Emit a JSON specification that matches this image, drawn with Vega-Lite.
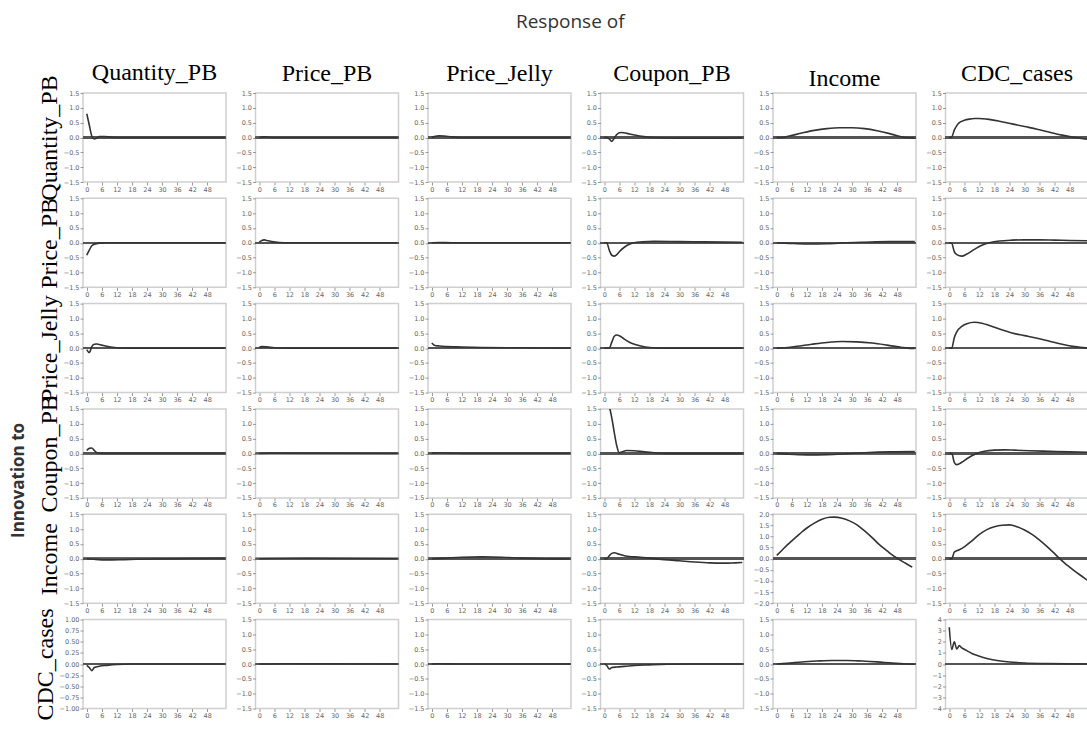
{
"$schema":"https://vega.github.io/schema/vega-lite/v6.json",
"background":"white",
"padding":{"left":10,"top":13,"right":0,"bottom":0},
"title":{"text":"Response of","font":"Open Sans","fontSize":19,"fontWeight":"normal","color":"#333","anchor":"middle","offset":28,"dx":20,"frame":"bounds"},
"datasets":{
"p11":[{"t":0,"v":0.8},{"t":1,"v":0.42},{"t":2,"v":0.05},{"t":3,"v":-0.05},{"t":4,"v":-0.02},{"t":5,"v":0.03},{"t":7,"v":0.03},{"t":10,"v":0.01},{"t":15,"v":0},{"t":55,"v":0}],
"p12":[{"t":0,"v":0},{"t":2,"v":0.02},{"t":4,"v":0.01},{"t":8,"v":0},{"t":55,"v":0}],
"p13":[{"t":0,"v":0},{"t":1,"v":0.03},{"t":3,"v":0.06},{"t":5,"v":0.05},{"t":8,"v":0.02},{"t":12,"v":0},{"t":55,"v":0}],
"p14":[{"t":0,"v":0},{"t":1,"v":0},{"t":2,"v":-0.05},{"t":3,"v":-0.13},{"t":4,"v":-0.02},{"t":5,"v":0.1},{"t":6,"v":0.16},{"t":7,"v":0.17},{"t":9,"v":0.14},{"t":11,"v":0.1},{"t":14,"v":0.05},{"t":18,"v":0.01},{"t":22,"v":-0.01},{"t":30,"v":-0.02},{"t":45,"v":-0.02},{"t":55,"v":-0.01}],
"p15":[{"t":0,"v":0},{"t":2,"v":0},{"t":5,"v":0.05},{"t":10,"v":0.15},{"t":15,"v":0.24},{"t":20,"v":0.3},{"t":25,"v":0.33},{"t":30,"v":0.33},{"t":35,"v":0.3},{"t":40,"v":0.23},{"t":45,"v":0.13},{"t":48,"v":0.06},{"t":51,"v":0},{"t":55,"v":-0.02}],
"p16":[{"t":0,"v":0},{"t":1,"v":0.02},{"t":2,"v":0.25},{"t":3,"v":0.4},{"t":4,"v":0.5},{"t":6,"v":0.58},{"t":8,"v":0.62},{"t":10,"v":0.64},{"t":12,"v":0.64},{"t":15,"v":0.62},{"t":20,"v":0.55},{"t":25,"v":0.46},{"t":30,"v":0.37},{"t":35,"v":0.28},{"t":40,"v":0.18},{"t":45,"v":0.08},{"t":50,"v":0},{"t":55,"v":-0.06}],
"p21":[{"t":0,"v":-0.42},{"t":1,"v":-0.25},{"t":2,"v":-0.1},{"t":3,"v":-0.05},{"t":5,"v":-0.01},{"t":8,"v":0},{"t":55,"v":0}],
"p22":[{"t":0,"v":0.02},{"t":1,"v":0.08},{"t":2,"v":0.1},{"t":3,"v":0.08},{"t":5,"v":0.04},{"t":8,"v":0.01},{"t":12,"v":0},{"t":55,"v":0}],
"p23":[{"t":0,"v":0},{"t":3,"v":0.01},{"t":8,"v":0},{"t":55,"v":0}],
"p24":[{"t":0,"v":0},{"t":1,"v":0},{"t":2,"v":-0.25},{"t":3,"v":-0.42},{"t":4,"v":-0.45},{"t":5,"v":-0.4},{"t":6,"v":-0.3},{"t":8,"v":-0.15},{"t":10,"v":-0.05},{"t":12,"v":0},{"t":15,"v":0.03},{"t":20,"v":0.05},{"t":30,"v":0.04},{"t":40,"v":0.03},{"t":55,"v":0.02}],
"p25":[{"t":0,"v":0},{"t":5,"v":-0.02},{"t":12,"v":-0.04},{"t":20,"v":-0.03},{"t":28,"v":0},{"t":35,"v":0.02},{"t":45,"v":0.04},{"t":55,"v":0.04}],
"p26":[{"t":0,"v":0},{"t":1,"v":-0.02},{"t":2,"v":-0.3},{"t":3,"v":-0.4},{"t":5,"v":-0.45},{"t":7,"v":-0.38},{"t":10,"v":-0.22},{"t":13,"v":-0.08},{"t":16,"v":0},{"t":20,"v":0.06},{"t":25,"v":0.09},{"t":30,"v":0.1},{"t":36,"v":0.1},{"t":42,"v":0.09},{"t":48,"v":0.08},{"t":55,"v":0.07}],
"p31":[{"t":0,"v":-0.05},{"t":1,"v":-0.15},{"t":2,"v":0.05},{"t":3,"v":0.13},{"t":4,"v":0.14},{"t":6,"v":0.1},{"t":8,"v":0.06},{"t":11,"v":0.02},{"t":15,"v":0},{"t":55,"v":0}],
"p32":[{"t":0,"v":0.02},{"t":1,"v":0.05},{"t":3,"v":0.04},{"t":6,"v":0.01},{"t":10,"v":0},{"t":55,"v":0}],
"p33":[{"t":0,"v":0.17},{"t":1,"v":0.1},{"t":3,"v":0.07},{"t":6,"v":0.05},{"t":10,"v":0.04},{"t":20,"v":0.02},{"t":30,"v":0.01},{"t":55,"v":0}],
"p34":[{"t":0,"v":0},{"t":2,"v":0},{"t":3,"v":0.2},{"t":4,"v":0.4},{"t":5,"v":0.44},{"t":6,"v":0.42},{"t":8,"v":0.3},{"t":10,"v":0.2},{"t":12,"v":0.13},{"t":15,"v":0.06},{"t":18,"v":0.02},{"t":22,"v":0},{"t":55,"v":0}],
"p35":[{"t":0,"v":0},{"t":3,"v":0.01},{"t":8,"v":0.06},{"t":14,"v":0.13},{"t":20,"v":0.19},{"t":26,"v":0.22},{"t":32,"v":0.21},{"t":38,"v":0.17},{"t":44,"v":0.1},{"t":50,"v":0.02},{"t":52,"v":0},{"t":55,"v":-0.01}],
"p36":[{"t":0,"v":0},{"t":1,"v":0},{"t":2,"v":0.35},{"t":3,"v":0.55},{"t":5,"v":0.73},{"t":7,"v":0.82},{"t":10,"v":0.87},{"t":13,"v":0.84},{"t":16,"v":0.76},{"t":20,"v":0.64},{"t":25,"v":0.51},{"t":30,"v":0.42},{"t":35,"v":0.33},{"t":40,"v":0.23},{"t":45,"v":0.13},{"t":50,"v":0.05},{"t":55,"v":0}],
"p41":[{"t":0,"v":0.1},{"t":1,"v":0.17},{"t":2,"v":0.18},{"t":3,"v":0.1},{"t":4,"v":0.02},{"t":6,"v":0},{"t":55,"v":0}],
"p42":[{"t":0,"v":0},{"t":4,"v":0.01},{"t":55,"v":0}],
"p43":[{"t":0,"v":0.01},{"t":3,"v":0.02},{"t":8,"v":0.01},{"t":15,"v":0},{"t":55,"v":0}],
"p44":[{"t":0,"v":2.4},{"t":1,"v":2.0},{"t":2,"v":1.6},{"t":3,"v":1.2},{"t":4,"v":0.7},{"t":5,"v":0.25},{"t":6,"v":0.02},{"t":7,"v":0.05},{"t":9,"v":0.1},{"t":12,"v":0.09},{"t":16,"v":0.05},{"t":20,"v":0.02},{"t":25,"v":0},{"t":55,"v":0}],
"p45":[{"t":0,"v":0},{"t":5,"v":-0.03},{"t":12,"v":-0.05},{"t":20,"v":-0.04},{"t":28,"v":-0.01},{"t":35,"v":0.02},{"t":45,"v":0.05},{"t":55,"v":0.06}],
"p46":[{"t":0,"v":0},{"t":1,"v":0},{"t":2,"v":-0.3},{"t":3,"v":-0.38},{"t":5,"v":-0.3},{"t":7,"v":-0.18},{"t":9,"v":-0.08},{"t":11,"v":0},{"t":14,"v":0.07},{"t":18,"v":0.11},{"t":22,"v":0.12},{"t":26,"v":0.11},{"t":32,"v":0.09},{"t":40,"v":0.07},{"t":48,"v":0.05},{"t":55,"v":0.04}],
"p51":[{"t":0,"v":0},{"t":3,"v":-0.02},{"t":8,"v":-0.04},{"t":15,"v":-0.03},{"t":25,"v":-0.01},{"t":35,"v":0},{"t":55,"v":0.01}],
"p52":[{"t":0,"v":0},{"t":20,"v":0.01},{"t":55,"v":0}],
"p53":[{"t":0,"v":0},{"t":5,"v":0.02},{"t":12,"v":0.05},{"t":20,"v":0.06},{"t":28,"v":0.05},{"t":36,"v":0.02},{"t":45,"v":0},{"t":55,"v":-0.01}],
"p54":[{"t":0,"v":0},{"t":1,"v":0},{"t":2,"v":0.1},{"t":3,"v":0.18},{"t":4,"v":0.2},{"t":6,"v":0.15},{"t":8,"v":0.1},{"t":12,"v":0.06},{"t":18,"v":0.02},{"t":24,"v":-0.03},{"t":30,"v":-0.07},{"t":36,"v":-0.11},{"t":42,"v":-0.14},{"t":48,"v":-0.15},{"t":52,"v":-0.14},{"t":55,"v":-0.13}],
"p55":[{"t":0,"v":0.15},{"t":2,"v":0.37},{"t":4,"v":0.6},{"t":6,"v":0.8},{"t":8,"v":1.0},{"t":10,"v":1.2},{"t":12,"v":1.38},{"t":15,"v":1.6},{"t":18,"v":1.77},{"t":21,"v":1.86},{"t":23,"v":1.87},{"t":26,"v":1.82},{"t":29,"v":1.7},{"t":32,"v":1.52},{"t":35,"v":1.25},{"t":38,"v":0.95},{"t":41,"v":0.62},{"t":44,"v":0.35},{"t":46,"v":0.17},{"t":48,"v":0.02},{"t":50,"v":-0.12},{"t":52,"v":-0.25},{"t":54,"v":-0.38}],
"p56":[{"t":0,"v":0},{"t":1,"v":0},{"t":2,"v":0.22},{"t":4,"v":0.3},{"t":6,"v":0.4},{"t":9,"v":0.6},{"t":12,"v":0.82},{"t":15,"v":0.98},{"t":18,"v":1.08},{"t":21,"v":1.13},{"t":24,"v":1.14},{"t":27,"v":1.08},{"t":30,"v":0.97},{"t":33,"v":0.82},{"t":36,"v":0.63},{"t":39,"v":0.41},{"t":42,"v":0.17},{"t":44,"v":0},{"t":47,"v":-0.22},{"t":50,"v":-0.42},{"t":53,"v":-0.6},{"t":55,"v":-0.72}],
"p61":[{"t":0,"v":-0.03},{"t":1,"v":-0.08},{"t":2,"v":-0.15},{"t":3,"v":-0.08},{"t":5,"v":-0.05},{"t":8,"v":-0.03},{"t":12,"v":-0.01},{"t":18,"v":0},{"t":55,"v":0}],
"p62":[{"t":0,"v":0},{"t":10,"v":0.01},{"t":55,"v":0}],
"p63":[{"t":0,"v":0},{"t":3,"v":0.01},{"t":10,"v":0},{"t":55,"v":0}],
"p64":[{"t":0,"v":0},{"t":1,"v":-0.05},{"t":2,"v":-0.17},{"t":3,"v":-0.12},{"t":5,"v":-0.1},{"t":8,"v":-0.08},{"t":12,"v":-0.05},{"t":18,"v":-0.03},{"t":25,"v":-0.01},{"t":35,"v":0},{"t":55,"v":0}],
"p65":[{"t":0,"v":0},{"t":4,"v":0.02},{"t":10,"v":0.07},{"t":16,"v":0.1},{"t":22,"v":0.12},{"t":28,"v":0.12},{"t":34,"v":0.1},{"t":40,"v":0.07},{"t":46,"v":0.03},{"t":52,"v":0},{"t":55,"v":-0.01}],
"p66":[{"t":0,"v":3.3},{"t":1,"v":1.3},{"t":2,"v":2.0},{"t":3,"v":1.35},{"t":4,"v":1.65},{"t":5,"v":1.45},{"t":7,"v":1.2},{"t":9,"v":0.95},{"t":12,"v":0.7},{"t":15,"v":0.5},{"t":19,"v":0.32},{"t":24,"v":0.18},{"t":30,"v":0.09},{"t":38,"v":0.04},{"t":48,"v":0.01},{"t":55,"v":0}]
},
"vconcat":[{
"title":{"text":"Innovation to","orient":"left","font":"Open Sans","fontSize":17,"fontWeight":"bold","color":"#333","anchor":"middle","offset":4,"dx":-90,"frame":"bounds"},
"columns":6,
"spacing":{"row":16.3,"column":29.5},
"bounds":"flush",
"concat":[
{"width":143,"height":89,"title":{"text":"Quantity_PB","offset":-10},"data":{"name":"p11"},"layer":[{"mark":"rule","encoding":{"y":{"datum":0,"type":"quantitative","scale":{"domain":[-1.5,1.5],"nice":false},"axis":{"values":[-1.5,-1,-0.5,0,0.5,1,1.5],"format":".1f","title":"Quantity_PB"}}}},{"mark":{"type":"line","clip":true},"encoding":{"x":{"field":"t","type":"quantitative","scale":{"domain":[-1.5,55.5],"nice":false,"zero":false},"axis":{"values":[0,6,12,18,24,30,36,42,48],"title":null}},"y":{"field":"v","type":"quantitative","scale":{"domain":[-1.5,1.5],"nice":false},"axis":{"values":[-1.5,-1,-0.5,0,0.5,1,1.5],"format":".1f","title":"Quantity_PB"}}}}]},
{"width":143,"height":89,"title":"Price_PB","data":{"name":"p12"},"layer":[{"mark":"rule","encoding":{"y":{"datum":0,"type":"quantitative","scale":{"domain":[-1.5,1.5],"nice":false},"axis":{"values":[-1.5,-1,-0.5,0,0.5,1,1.5],"format":".1f","title":null}}}},{"mark":{"type":"line","clip":true},"encoding":{"x":{"field":"t","type":"quantitative","scale":{"domain":[-1.5,55.5],"nice":false,"zero":false},"axis":{"values":[0,6,12,18,24,30,36,42,48],"title":null}},"y":{"field":"v","type":"quantitative","scale":{"domain":[-1.5,1.5],"nice":false},"axis":{"values":[-1.5,-1,-0.5,0,0.5,1,1.5],"format":".1f","title":null}}}}]},
{"width":143,"height":89,"title":"Price_Jelly","data":{"name":"p13"},"layer":[{"mark":"rule","encoding":{"y":{"datum":0,"type":"quantitative","scale":{"domain":[-1.5,1.5],"nice":false},"axis":{"values":[-1.5,-1,-0.5,0,0.5,1,1.5],"format":".1f","title":null}}}},{"mark":{"type":"line","clip":true},"encoding":{"x":{"field":"t","type":"quantitative","scale":{"domain":[-1.5,55.5],"nice":false,"zero":false},"axis":{"values":[0,6,12,18,24,30,36,42,48],"title":null}},"y":{"field":"v","type":"quantitative","scale":{"domain":[-1.5,1.5],"nice":false},"axis":{"values":[-1.5,-1,-0.5,0,0.5,1,1.5],"format":".1f","title":null}}}}]},
{"width":143,"height":89,"title":"Coupon_PB","data":{"name":"p14"},"layer":[{"mark":"rule","encoding":{"y":{"datum":0,"type":"quantitative","scale":{"domain":[-1.5,1.5],"nice":false},"axis":{"values":[-1.5,-1,-0.5,0,0.5,1,1.5],"format":".1f","title":null}}}},{"mark":{"type":"line","clip":true},"encoding":{"x":{"field":"t","type":"quantitative","scale":{"domain":[-1.5,55.5],"nice":false,"zero":false},"axis":{"values":[0,6,12,18,24,30,36,42,48],"title":null}},"y":{"field":"v","type":"quantitative","scale":{"domain":[-1.5,1.5],"nice":false},"axis":{"values":[-1.5,-1,-0.5,0,0.5,1,1.5],"format":".1f","title":null}}}}]},
{"width":143,"height":89,"title":{"text":"Income","offset":-1},"data":{"name":"p15"},"layer":[{"mark":"rule","encoding":{"y":{"datum":0,"type":"quantitative","scale":{"domain":[-1.5,1.5],"nice":false},"axis":{"values":[-1.5,-1,-0.5,0,0.5,1,1.5],"format":".1f","title":null}}}},{"mark":{"type":"line","clip":true},"encoding":{"x":{"field":"t","type":"quantitative","scale":{"domain":[-1.5,55.5],"nice":false,"zero":false},"axis":{"values":[0,6,12,18,24,30,36,42,48],"title":null}},"y":{"field":"v","type":"quantitative","scale":{"domain":[-1.5,1.5],"nice":false},"axis":{"values":[-1.5,-1,-0.5,0,0.5,1,1.5],"format":".1f","title":null}}}}]},
{"width":143,"height":89,"title":"CDC_cases","data":{"name":"p16"},"layer":[{"mark":"rule","encoding":{"y":{"datum":0,"type":"quantitative","scale":{"domain":[-1.5,1.5],"nice":false},"axis":{"values":[-1.5,-1,-0.5,0,0.5,1,1.5],"format":".1f","title":null}}}},{"mark":{"type":"line","clip":true},"encoding":{"x":{"field":"t","type":"quantitative","scale":{"domain":[-1.5,55.5],"nice":false,"zero":false},"axis":{"values":[0,6,12,18,24,30,36,42,48],"title":null}},"y":{"field":"v","type":"quantitative","scale":{"domain":[-1.5,1.5],"nice":false},"axis":{"values":[-1.5,-1,-0.5,0,0.5,1,1.5],"format":".1f","title":null}}}}]},

{"width":143,"height":89,"data":{"name":"p21"},"layer":[{"mark":"rule","encoding":{"y":{"datum":0,"type":"quantitative","scale":{"domain":[-1.5,1.5],"nice":false},"axis":{"values":[-1.5,-1,-0.5,0,0.5,1,1.5],"format":".1f","title":"Price_PB"}}}},{"mark":{"type":"line","clip":true},"encoding":{"x":{"field":"t","type":"quantitative","scale":{"domain":[-1.5,55.5],"nice":false,"zero":false},"axis":{"values":[0,6,12,18,24,30,36,42,48],"title":null}},"y":{"field":"v","type":"quantitative","scale":{"domain":[-1.5,1.5],"nice":false},"axis":{"values":[-1.5,-1,-0.5,0,0.5,1,1.5],"format":".1f","title":"Price_PB"}}}}]},
{"width":143,"height":89,"data":{"name":"p22"},"layer":[{"mark":"rule","encoding":{"y":{"datum":0,"type":"quantitative","scale":{"domain":[-1.5,1.5],"nice":false},"axis":{"values":[-1.5,-1,-0.5,0,0.5,1,1.5],"format":".1f","title":null}}}},{"mark":{"type":"line","clip":true},"encoding":{"x":{"field":"t","type":"quantitative","scale":{"domain":[-1.5,55.5],"nice":false,"zero":false},"axis":{"values":[0,6,12,18,24,30,36,42,48],"title":null}},"y":{"field":"v","type":"quantitative","scale":{"domain":[-1.5,1.5],"nice":false},"axis":{"values":[-1.5,-1,-0.5,0,0.5,1,1.5],"format":".1f","title":null}}}}]},
{"width":143,"height":89,"data":{"name":"p23"},"layer":[{"mark":"rule","encoding":{"y":{"datum":0,"type":"quantitative","scale":{"domain":[-1.5,1.5],"nice":false},"axis":{"values":[-1.5,-1,-0.5,0,0.5,1,1.5],"format":".1f","title":null}}}},{"mark":{"type":"line","clip":true},"encoding":{"x":{"field":"t","type":"quantitative","scale":{"domain":[-1.5,55.5],"nice":false,"zero":false},"axis":{"values":[0,6,12,18,24,30,36,42,48],"title":null}},"y":{"field":"v","type":"quantitative","scale":{"domain":[-1.5,1.5],"nice":false},"axis":{"values":[-1.5,-1,-0.5,0,0.5,1,1.5],"format":".1f","title":null}}}}]},
{"width":143,"height":89,"data":{"name":"p24"},"layer":[{"mark":"rule","encoding":{"y":{"datum":0,"type":"quantitative","scale":{"domain":[-1.5,1.5],"nice":false},"axis":{"values":[-1.5,-1,-0.5,0,0.5,1,1.5],"format":".1f","title":null}}}},{"mark":{"type":"line","clip":true},"encoding":{"x":{"field":"t","type":"quantitative","scale":{"domain":[-1.5,55.5],"nice":false,"zero":false},"axis":{"values":[0,6,12,18,24,30,36,42,48],"title":null}},"y":{"field":"v","type":"quantitative","scale":{"domain":[-1.5,1.5],"nice":false},"axis":{"values":[-1.5,-1,-0.5,0,0.5,1,1.5],"format":".1f","title":null}}}}]},
{"width":143,"height":89,"data":{"name":"p25"},"layer":[{"mark":"rule","encoding":{"y":{"datum":0,"type":"quantitative","scale":{"domain":[-1.5,1.5],"nice":false},"axis":{"values":[-1.5,-1,-0.5,0,0.5,1,1.5],"format":".1f","title":null}}}},{"mark":{"type":"line","clip":true},"encoding":{"x":{"field":"t","type":"quantitative","scale":{"domain":[-1.5,55.5],"nice":false,"zero":false},"axis":{"values":[0,6,12,18,24,30,36,42,48],"title":null}},"y":{"field":"v","type":"quantitative","scale":{"domain":[-1.5,1.5],"nice":false},"axis":{"values":[-1.5,-1,-0.5,0,0.5,1,1.5],"format":".1f","title":null}}}}]},
{"width":143,"height":89,"data":{"name":"p26"},"layer":[{"mark":"rule","encoding":{"y":{"datum":0,"type":"quantitative","scale":{"domain":[-1.5,1.5],"nice":false},"axis":{"values":[-1.5,-1,-0.5,0,0.5,1,1.5],"format":".1f","title":null}}}},{"mark":{"type":"line","clip":true},"encoding":{"x":{"field":"t","type":"quantitative","scale":{"domain":[-1.5,55.5],"nice":false,"zero":false},"axis":{"values":[0,6,12,18,24,30,36,42,48],"title":null}},"y":{"field":"v","type":"quantitative","scale":{"domain":[-1.5,1.5],"nice":false},"axis":{"values":[-1.5,-1,-0.5,0,0.5,1,1.5],"format":".1f","title":null}}}}]},

{"width":143,"height":89,"data":{"name":"p31"},"layer":[{"mark":"rule","encoding":{"y":{"datum":0,"type":"quantitative","scale":{"domain":[-1.5,1.5],"nice":false},"axis":{"values":[-1.5,-1,-0.5,0,0.5,1,1.5],"format":".1f","title":"Price_Jelly"}}}},{"mark":{"type":"line","clip":true},"encoding":{"x":{"field":"t","type":"quantitative","scale":{"domain":[-1.5,55.5],"nice":false,"zero":false},"axis":{"values":[0,6,12,18,24,30,36,42,48],"title":null}},"y":{"field":"v","type":"quantitative","scale":{"domain":[-1.5,1.5],"nice":false},"axis":{"values":[-1.5,-1,-0.5,0,0.5,1,1.5],"format":".1f","title":"Price_Jelly"}}}}]},
{"width":143,"height":89,"data":{"name":"p32"},"layer":[{"mark":"rule","encoding":{"y":{"datum":0,"type":"quantitative","scale":{"domain":[-1.5,1.5],"nice":false},"axis":{"values":[-1.5,-1,-0.5,0,0.5,1,1.5],"format":".1f","title":null}}}},{"mark":{"type":"line","clip":true},"encoding":{"x":{"field":"t","type":"quantitative","scale":{"domain":[-1.5,55.5],"nice":false,"zero":false},"axis":{"values":[0,6,12,18,24,30,36,42,48],"title":null}},"y":{"field":"v","type":"quantitative","scale":{"domain":[-1.5,1.5],"nice":false},"axis":{"values":[-1.5,-1,-0.5,0,0.5,1,1.5],"format":".1f","title":null}}}}]},
{"width":143,"height":89,"data":{"name":"p33"},"layer":[{"mark":"rule","encoding":{"y":{"datum":0,"type":"quantitative","scale":{"domain":[-1.5,1.5],"nice":false},"axis":{"values":[-1.5,-1,-0.5,0,0.5,1,1.5],"format":".1f","title":null}}}},{"mark":{"type":"line","clip":true},"encoding":{"x":{"field":"t","type":"quantitative","scale":{"domain":[-1.5,55.5],"nice":false,"zero":false},"axis":{"values":[0,6,12,18,24,30,36,42,48],"title":null}},"y":{"field":"v","type":"quantitative","scale":{"domain":[-1.5,1.5],"nice":false},"axis":{"values":[-1.5,-1,-0.5,0,0.5,1,1.5],"format":".1f","title":null}}}}]},
{"width":143,"height":89,"data":{"name":"p34"},"layer":[{"mark":"rule","encoding":{"y":{"datum":0,"type":"quantitative","scale":{"domain":[-1.5,1.5],"nice":false},"axis":{"values":[-1.5,-1,-0.5,0,0.5,1,1.5],"format":".1f","title":null}}}},{"mark":{"type":"line","clip":true},"encoding":{"x":{"field":"t","type":"quantitative","scale":{"domain":[-1.5,55.5],"nice":false,"zero":false},"axis":{"values":[0,6,12,18,24,30,36,42,48],"title":null}},"y":{"field":"v","type":"quantitative","scale":{"domain":[-1.5,1.5],"nice":false},"axis":{"values":[-1.5,-1,-0.5,0,0.5,1,1.5],"format":".1f","title":null}}}}]},
{"width":143,"height":89,"data":{"name":"p35"},"layer":[{"mark":"rule","encoding":{"y":{"datum":0,"type":"quantitative","scale":{"domain":[-1.5,1.5],"nice":false},"axis":{"values":[-1.5,-1,-0.5,0,0.5,1,1.5],"format":".1f","title":null}}}},{"mark":{"type":"line","clip":true},"encoding":{"x":{"field":"t","type":"quantitative","scale":{"domain":[-1.5,55.5],"nice":false,"zero":false},"axis":{"values":[0,6,12,18,24,30,36,42,48],"title":null}},"y":{"field":"v","type":"quantitative","scale":{"domain":[-1.5,1.5],"nice":false},"axis":{"values":[-1.5,-1,-0.5,0,0.5,1,1.5],"format":".1f","title":null}}}}]},
{"width":143,"height":89,"data":{"name":"p36"},"layer":[{"mark":"rule","encoding":{"y":{"datum":0,"type":"quantitative","scale":{"domain":[-1.5,1.5],"nice":false},"axis":{"values":[-1.5,-1,-0.5,0,0.5,1,1.5],"format":".1f","title":null}}}},{"mark":{"type":"line","clip":true},"encoding":{"x":{"field":"t","type":"quantitative","scale":{"domain":[-1.5,55.5],"nice":false,"zero":false},"axis":{"values":[0,6,12,18,24,30,36,42,48],"title":null}},"y":{"field":"v","type":"quantitative","scale":{"domain":[-1.5,1.5],"nice":false},"axis":{"values":[-1.5,-1,-0.5,0,0.5,1,1.5],"format":".1f","title":null}}}}]},

{"width":143,"height":89,"data":{"name":"p41"},"layer":[{"mark":"rule","encoding":{"y":{"datum":0,"type":"quantitative","scale":{"domain":[-1.5,1.5],"nice":false},"axis":{"values":[-1.5,-1,-0.5,0,0.5,1,1.5],"format":".1f","title":"Coupon_PB"}}}},{"mark":{"type":"line","clip":true},"encoding":{"x":{"field":"t","type":"quantitative","scale":{"domain":[-1.5,55.5],"nice":false,"zero":false},"axis":{"values":[0,6,12,18,24,30,36,42,48],"title":null}},"y":{"field":"v","type":"quantitative","scale":{"domain":[-1.5,1.5],"nice":false},"axis":{"values":[-1.5,-1,-0.5,0,0.5,1,1.5],"format":".1f","title":"Coupon_PB"}}}}]},
{"width":143,"height":89,"data":{"name":"p42"},"layer":[{"mark":"rule","encoding":{"y":{"datum":0,"type":"quantitative","scale":{"domain":[-1.5,1.5],"nice":false},"axis":{"values":[-1.5,-1,-0.5,0,0.5,1,1.5],"format":".1f","title":null}}}},{"mark":{"type":"line","clip":true},"encoding":{"x":{"field":"t","type":"quantitative","scale":{"domain":[-1.5,55.5],"nice":false,"zero":false},"axis":{"values":[0,6,12,18,24,30,36,42,48],"title":null}},"y":{"field":"v","type":"quantitative","scale":{"domain":[-1.5,1.5],"nice":false},"axis":{"values":[-1.5,-1,-0.5,0,0.5,1,1.5],"format":".1f","title":null}}}}]},
{"width":143,"height":89,"data":{"name":"p43"},"layer":[{"mark":"rule","encoding":{"y":{"datum":0,"type":"quantitative","scale":{"domain":[-1.5,1.5],"nice":false},"axis":{"values":[-1.5,-1,-0.5,0,0.5,1,1.5],"format":".1f","title":null}}}},{"mark":{"type":"line","clip":true},"encoding":{"x":{"field":"t","type":"quantitative","scale":{"domain":[-1.5,55.5],"nice":false,"zero":false},"axis":{"values":[0,6,12,18,24,30,36,42,48],"title":null}},"y":{"field":"v","type":"quantitative","scale":{"domain":[-1.5,1.5],"nice":false},"axis":{"values":[-1.5,-1,-0.5,0,0.5,1,1.5],"format":".1f","title":null}}}}]},
{"width":143,"height":89,"data":{"name":"p44"},"layer":[{"mark":"rule","encoding":{"y":{"datum":0,"type":"quantitative","scale":{"domain":[-1.5,1.5],"nice":false},"axis":{"values":[-1.5,-1,-0.5,0,0.5,1,1.5],"format":".1f","title":null}}}},{"mark":{"type":"line","clip":true},"encoding":{"x":{"field":"t","type":"quantitative","scale":{"domain":[-1.5,55.5],"nice":false,"zero":false},"axis":{"values":[0,6,12,18,24,30,36,42,48],"title":null}},"y":{"field":"v","type":"quantitative","scale":{"domain":[-1.5,1.5],"nice":false},"axis":{"values":[-1.5,-1,-0.5,0,0.5,1,1.5],"format":".1f","title":null}}}}]},
{"width":143,"height":89,"data":{"name":"p45"},"layer":[{"mark":"rule","encoding":{"y":{"datum":0,"type":"quantitative","scale":{"domain":[-1.5,1.5],"nice":false},"axis":{"values":[-1.5,-1,-0.5,0,0.5,1,1.5],"format":".1f","title":null}}}},{"mark":{"type":"line","clip":true},"encoding":{"x":{"field":"t","type":"quantitative","scale":{"domain":[-1.5,55.5],"nice":false,"zero":false},"axis":{"values":[0,6,12,18,24,30,36,42,48],"title":null}},"y":{"field":"v","type":"quantitative","scale":{"domain":[-1.5,1.5],"nice":false},"axis":{"values":[-1.5,-1,-0.5,0,0.5,1,1.5],"format":".1f","title":null}}}}]},
{"width":143,"height":89,"data":{"name":"p46"},"layer":[{"mark":"rule","encoding":{"y":{"datum":0,"type":"quantitative","scale":{"domain":[-1.5,1.5],"nice":false},"axis":{"values":[-1.5,-1,-0.5,0,0.5,1,1.5],"format":".1f","title":null}}}},{"mark":{"type":"line","clip":true},"encoding":{"x":{"field":"t","type":"quantitative","scale":{"domain":[-1.5,55.5],"nice":false,"zero":false},"axis":{"values":[0,6,12,18,24,30,36,42,48],"title":null}},"y":{"field":"v","type":"quantitative","scale":{"domain":[-1.5,1.5],"nice":false},"axis":{"values":[-1.5,-1,-0.5,0,0.5,1,1.5],"format":".1f","title":null}}}}]},

{"width":143,"height":89,"data":{"name":"p51"},"layer":[{"mark":"rule","encoding":{"y":{"datum":0,"type":"quantitative","scale":{"domain":[-1.5,1.5],"nice":false},"axis":{"values":[-1.5,-1,-0.5,0,0.5,1,1.5],"format":".1f","title":"Income"}}}},{"mark":{"type":"line","clip":true},"encoding":{"x":{"field":"t","type":"quantitative","scale":{"domain":[-1.5,55.5],"nice":false,"zero":false},"axis":{"values":[0,6,12,18,24,30,36,42,48],"title":null}},"y":{"field":"v","type":"quantitative","scale":{"domain":[-1.5,1.5],"nice":false},"axis":{"values":[-1.5,-1,-0.5,0,0.5,1,1.5],"format":".1f","title":"Income"}}}}]},
{"width":143,"height":89,"data":{"name":"p52"},"layer":[{"mark":"rule","encoding":{"y":{"datum":0,"type":"quantitative","scale":{"domain":[-1.5,1.5],"nice":false},"axis":{"values":[-1.5,-1,-0.5,0,0.5,1,1.5],"format":".1f","title":null}}}},{"mark":{"type":"line","clip":true},"encoding":{"x":{"field":"t","type":"quantitative","scale":{"domain":[-1.5,55.5],"nice":false,"zero":false},"axis":{"values":[0,6,12,18,24,30,36,42,48],"title":null}},"y":{"field":"v","type":"quantitative","scale":{"domain":[-1.5,1.5],"nice":false},"axis":{"values":[-1.5,-1,-0.5,0,0.5,1,1.5],"format":".1f","title":null}}}}]},
{"width":143,"height":89,"data":{"name":"p53"},"layer":[{"mark":"rule","encoding":{"y":{"datum":0,"type":"quantitative","scale":{"domain":[-1.5,1.5],"nice":false},"axis":{"values":[-1.5,-1,-0.5,0,0.5,1,1.5],"format":".1f","title":null}}}},{"mark":{"type":"line","clip":true},"encoding":{"x":{"field":"t","type":"quantitative","scale":{"domain":[-1.5,55.5],"nice":false,"zero":false},"axis":{"values":[0,6,12,18,24,30,36,42,48],"title":null}},"y":{"field":"v","type":"quantitative","scale":{"domain":[-1.5,1.5],"nice":false},"axis":{"values":[-1.5,-1,-0.5,0,0.5,1,1.5],"format":".1f","title":null}}}}]},
{"width":143,"height":89,"data":{"name":"p54"},"layer":[{"mark":"rule","encoding":{"y":{"datum":0,"type":"quantitative","scale":{"domain":[-1.5,1.5],"nice":false},"axis":{"values":[-1.5,-1,-0.5,0,0.5,1,1.5],"format":".1f","title":null}}}},{"mark":{"type":"line","clip":true},"encoding":{"x":{"field":"t","type":"quantitative","scale":{"domain":[-1.5,55.5],"nice":false,"zero":false},"axis":{"values":[0,6,12,18,24,30,36,42,48],"title":null}},"y":{"field":"v","type":"quantitative","scale":{"domain":[-1.5,1.5],"nice":false},"axis":{"values":[-1.5,-1,-0.5,0,0.5,1,1.5],"format":".1f","title":null}}}}]},
{"width":143,"height":89,"data":{"name":"p55"},"layer":[{"mark":"rule","encoding":{"y":{"datum":0,"type":"quantitative","scale":{"domain":[-2,2],"nice":false},"axis":{"values":[-2,-1.5,-1,-0.5,0,0.5,1,1.5,2],"format":".1f","title":null}}}},{"mark":{"type":"line","clip":true},"encoding":{"x":{"field":"t","type":"quantitative","scale":{"domain":[-1.5,55.5],"nice":false,"zero":false},"axis":{"values":[0,6,12,18,24,30,36,42,48],"title":null}},"y":{"field":"v","type":"quantitative","scale":{"domain":[-2,2],"nice":false},"axis":{"values":[-2,-1.5,-1,-0.5,0,0.5,1,1.5,2],"format":".1f","title":null}}}}]},
{"width":143,"height":89,"data":{"name":"p56"},"layer":[{"mark":"rule","encoding":{"y":{"datum":0,"type":"quantitative","scale":{"domain":[-1.5,1.5],"nice":false},"axis":{"values":[-1.5,-1,-0.5,0,0.5,1,1.5],"format":".1f","title":null}}}},{"mark":{"type":"line","clip":true},"encoding":{"x":{"field":"t","type":"quantitative","scale":{"domain":[-1.5,55.5],"nice":false,"zero":false},"axis":{"values":[0,6,12,18,24,30,36,42,48],"title":null}},"y":{"field":"v","type":"quantitative","scale":{"domain":[-1.5,1.5],"nice":false},"axis":{"values":[-1.5,-1,-0.5,0,0.5,1,1.5],"format":".1f","title":null}}}}]},

{"width":143,"height":89,"data":{"name":"p61"},"layer":[{"mark":"rule","encoding":{"y":{"datum":0,"type":"quantitative","scale":{"domain":[-1,1],"nice":false},"axis":{"values":[-1,-0.75,-0.5,-0.25,0,0.25,0.5,0.75,1],"format":".2f","title":"CDC_cases"}}}},{"mark":{"type":"line","clip":true},"encoding":{"x":{"field":"t","type":"quantitative","scale":{"domain":[-1.5,55.5],"nice":false,"zero":false},"axis":{"values":[0,6,12,18,24,30,36,42,48],"title":null}},"y":{"field":"v","type":"quantitative","scale":{"domain":[-1,1],"nice":false},"axis":{"values":[-1,-0.75,-0.5,-0.25,0,0.25,0.5,0.75,1],"format":".2f","title":"CDC_cases"}}}}]},
{"width":143,"height":89,"data":{"name":"p62"},"layer":[{"mark":"rule","encoding":{"y":{"datum":0,"type":"quantitative","scale":{"domain":[-1.5,1.5],"nice":false},"axis":{"values":[-1.5,-1,-0.5,0,0.5,1,1.5],"format":".1f","title":null}}}},{"mark":{"type":"line","clip":true},"encoding":{"x":{"field":"t","type":"quantitative","scale":{"domain":[-1.5,55.5],"nice":false,"zero":false},"axis":{"values":[0,6,12,18,24,30,36,42,48],"title":null}},"y":{"field":"v","type":"quantitative","scale":{"domain":[-1.5,1.5],"nice":false},"axis":{"values":[-1.5,-1,-0.5,0,0.5,1,1.5],"format":".1f","title":null}}}}]},
{"width":143,"height":89,"data":{"name":"p63"},"layer":[{"mark":"rule","encoding":{"y":{"datum":0,"type":"quantitative","scale":{"domain":[-1.5,1.5],"nice":false},"axis":{"values":[-1.5,-1,-0.5,0,0.5,1,1.5],"format":".1f","title":null}}}},{"mark":{"type":"line","clip":true},"encoding":{"x":{"field":"t","type":"quantitative","scale":{"domain":[-1.5,55.5],"nice":false,"zero":false},"axis":{"values":[0,6,12,18,24,30,36,42,48],"title":null}},"y":{"field":"v","type":"quantitative","scale":{"domain":[-1.5,1.5],"nice":false},"axis":{"values":[-1.5,-1,-0.5,0,0.5,1,1.5],"format":".1f","title":null}}}}]},
{"width":143,"height":89,"data":{"name":"p64"},"layer":[{"mark":"rule","encoding":{"y":{"datum":0,"type":"quantitative","scale":{"domain":[-1.5,1.5],"nice":false},"axis":{"values":[-1.5,-1,-0.5,0,0.5,1,1.5],"format":".1f","title":null}}}},{"mark":{"type":"line","clip":true},"encoding":{"x":{"field":"t","type":"quantitative","scale":{"domain":[-1.5,55.5],"nice":false,"zero":false},"axis":{"values":[0,6,12,18,24,30,36,42,48],"title":null}},"y":{"field":"v","type":"quantitative","scale":{"domain":[-1.5,1.5],"nice":false},"axis":{"values":[-1.5,-1,-0.5,0,0.5,1,1.5],"format":".1f","title":null}}}}]},
{"width":143,"height":89,"data":{"name":"p65"},"layer":[{"mark":"rule","encoding":{"y":{"datum":0,"type":"quantitative","scale":{"domain":[-1.5,1.5],"nice":false},"axis":{"values":[-1.5,-1,-0.5,0,0.5,1,1.5],"format":".1f","title":null}}}},{"mark":{"type":"line","clip":true},"encoding":{"x":{"field":"t","type":"quantitative","scale":{"domain":[-1.5,55.5],"nice":false,"zero":false},"axis":{"values":[0,6,12,18,24,30,36,42,48],"title":null}},"y":{"field":"v","type":"quantitative","scale":{"domain":[-1.5,1.5],"nice":false},"axis":{"values":[-1.5,-1,-0.5,0,0.5,1,1.5],"format":".1f","title":null}}}}]},
{"width":143,"height":89,"data":{"name":"p66"},"layer":[{"mark":"rule","encoding":{"y":{"datum":0,"type":"quantitative","scale":{"domain":[-4,4],"nice":false},"axis":{"values":[-4,-3,-2,-1,0,1,2,3,4],"format":"d","title":null}}}},{"mark":{"type":"line","clip":true},"encoding":{"x":{"field":"t","type":"quantitative","scale":{"domain":[-1.5,55.5],"nice":false,"zero":false},"axis":{"values":[0,6,12,18,24,30,36,42,48],"title":null}},"y":{"field":"v","type":"quantitative","scale":{"domain":[-4,4],"nice":false},"axis":{"values":[-4,-3,-2,-1,0,1,2,3,4],"format":"d","title":null}}}}]}
]
}],
"config":{
"view":{"stroke":"#cfcfcf","strokeWidth":1.5},
"axis":{"grid":false,"domain":false,"tickColor":"#999","tickSize":3,"labelFont":"DejaVu Sans","labelFontSize":6.5,"labelColor":"#666","labelPadding":1,"labelFlush":false,"labelOverlap":false,"titleFont":"Liberation Serif","titleFontSize":24,"titleFontWeight":"normal","titleColor":"#000","titlePadding":2},
"title":{"font":"Liberation Serif","fontSize":24,"fontWeight":"normal","color":"#000","anchor":"middle","offset":4,"frame":"group"},
"line":{"color":"#333","strokeWidth":1.6,"interpolate":"monotone"},
"rule":{"color":"#555","strokeWidth":1.8}
}
}
